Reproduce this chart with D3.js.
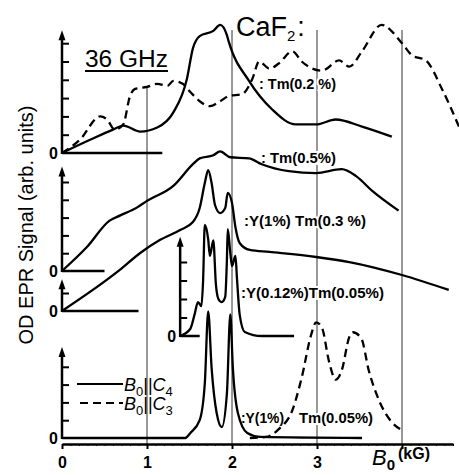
<!DOCTYPE html>
<html>
<head>
<meta charset="utf-8">
<script src="https://cdn.jsdelivr.net/npm/d3@7"></script>
<style>
  body { margin: 0; background: #fff; }
  svg { display: block; font-family: "Liberation Sans", Arial, sans-serif; }
</style>
</head>
<body>
<svg id="chart" width="459" height="475"></svg>
<script>
// field axis (kG)
const fieldTicks = [0, 1, 2, 3, 4];
const fieldLabels = [0, 1, 2, 3];
const gridFields = [1, 2, 3, 4];

// series: [B0 (kG), signal (arb. units)]
// Tm(0.2 %), B0||C4
const tm02C4 = [[0,0],[0.33,0.72],[0.6,1.28],[0.72,1.5],[0.92,1.17],[1.12,1.39],[1.31,2.22],[1.47,4.06],
  [1.54,5.72],[1.62,6.39],[1.78,6.67],[1.86,7.0],[1.94,6.44],[1.96,6.11],[2.2,3.94],[2.47,2.39],
  [2.75,1.56],[2.99,1.56],[3.22,1.83],[3.53,1.44],[3.88,0.89]];
// Tm(0.2 %), B0||C3
const tm02C3 = [[0,0],[0.21,0.72],[0.45,2.0],[0.53,1.83],[0.62,1.28],[0.72,1.56],[0.8,3.11],[0.86,3.5],
  [1.0,3.61],[1.12,3.78],[1.24,3.67],[1.31,3.94],[1.42,3.78],[1.51,3.33],[1.62,2.83],[1.74,2.56],
  [1.86,2.83],[1.96,3.11],[2.12,3.22],[2.24,4.06],[2.32,5.0],[2.44,4.61],[2.55,4.89],[2.71,5.56],
  [2.82,5.0],[3.06,4.5],[3.26,5.06],[3.38,4.72],[3.53,5.56],[3.76,7.0],[4.0,6.0],[4.12,5.33],
  [4.28,5.06],[4.47,3.5],[4.67,1.44]];
// Tm(0.5%)
const tm05C4 = [[0,0],[0.29,1.33],[0.56,2.83],[0.68,3.11],[0.88,3.56],[1.0,3.94],[1.31,4.78],[1.54,6.0],
  [1.62,6.33],[1.78,6.5],[1.86,6.72],[1.98,6.39],[2.2,6.33],[2.35,6.0],[2.67,5.61],[2.99,5.5],
  [3.29,5.72],[3.46,5.33],[3.65,4.5],[3.96,3.39]];
// Y(1%) Tm(0.3 %)
const y1tm03C4 = [[0,0],[0.68,2.28],[0.92,3.22],[1.15,3.94],[1.39,4.5],[1.54,4.94],[1.62,5.72],[1.68,7.11],
  [1.72,7.83],[1.76,7.11],[1.8,5.89],[1.86,5.44],[1.92,5.72],[1.95,6.56],[2.0,6.0],[2.04,4.67],
  [2.09,3.78],[2.21,3.39],[2.44,3.28],[2.99,3.0],[3.38,2.72],[4.0,2.0],[4.55,1.17]];
// Y(0.12%) Tm(0.05%)
const y012tm005C4 = [[1.39,0],[1.51,0.39],[1.56,1.17],[1.6,1.83],[1.64,1.61],[1.66,3.0],[1.68,6.0],[1.72,5.22],
  [1.74,4.33],[1.78,5.17],[1.81,2.83],[1.84,2.0],[1.88,1.83],[1.92,2.11],[1.94,4.11],[1.95,5.78],
  [1.98,4.5],[2.0,3.78],[2.04,4.33],[2.06,3.0],[2.09,1.17],[2.15,0.22],[2.35,0],[2.73,0]];
// Y(1%) (solid) and Tm(0.05%) (dashed)
const y1C4 = [[0,0],[1.45,0],[1.51,0.28],[1.62,1.0],[1.68,3.06],[1.72,7.11],[1.76,3.94],[1.82,1.39],
  [1.88,0.61],[1.94,2.5],[1.98,6.94],[2.01,3.94],[2.07,1.39],[2.18,0.28],[2.33,0.06],[3.53,0]];
const tm005C3 = [[2.21,0],[2.4,0.06],[2.55,0.5],[2.71,1.56],[2.82,3.39],[2.93,5.78],[2.99,6.5],[3.06,6.17],
  [3.14,4.33],[3.22,3.28],[3.29,3.78],[3.38,5.67],[3.42,5.94],[3.52,5.61],[3.61,3.78],[3.73,2.11],
  [3.88,0.89],[4.0,0.44]];

// layout of the stacked panels
const panels = [
  { zero: 153, unit: 18.3, top: 6.55, ticks: 6, axisAt: 0, base: [0, 1.18] },
  { zero: 271, unit: 17.8, top: 5.7, ticks: 5, axisAt: 0, base: [0, 0.5] },
  { zero: 311, unit: 18, top: 1.6, ticks: 1, axisAt: 0, base: [0, 0.9] },
  { zero: 336, unit: 18.5, top: 5.2, ticks: 4, axisAt: 1.39, base: [1.39, 1.62] },
  { zero: 438, unit: 17.8, top: 4.95, ticks: 4, axisAt: 0, base: null }
];

const curves = [
  { panel: 0, data: tm02C4, dashed: false },
  { panel: 0, data: tm02C3, dashed: true },
  { panel: 1, data: tm05C4, dashed: false },
  { panel: 2, data: y1tm03C4, dashed: false },
  { panel: 3, data: y012tm005C4, dashed: false },
  { panel: 4, data: y1C4, dashed: false },
  { panel: 4, data: tm005C3, dashed: true }
];

const labels = [
  { text: ': Tm(0.2 %)', x: 259, y: 89, len: 77 },
  { text: ': Tm(0.5%)', x: 261, y: 163, len: 75 },
  { text: ':Y(1%) Tm(0.3 %)', x: 244, y: 226, len: 122 },
  { text: ':Y(0.12%)Tm(0.05%)', x: 241, y: 298, len: 143 },
  { text: ':Y(1%)', x: 241, y: 423, len: 43 },
  { text: 'Tm(0.05%)', x: 299, y: 423, len: 74 }
];

const svg = d3.select('#chart');
svg.append('rect').attr('width', 459).attr('height', 475).attr('fill', '#fff');

const x = d3.scaleLinear().domain([0, 4.6]).range([62, 453]);
const axisY = 444;

// vertical grid lines
svg.append('g').selectAll('line')
  .data(gridFields)
  .enter()
  .append('line')
  .attr('x1', d => x(d)).attr('x2', d => x(d))
  .attr('y1', d => d === 1 ? 88 : 30)
  .attr('y2', axisY)
  .attr('stroke', '#333')
  .attr('stroke-width', 1);

// panel labels with a white halo so grid lines break behind them
svg.append('g').selectAll('text')
  .data(labels)
  .enter()
  .append('text')
  .attr('x', d => d.x)
  .attr('y', d => d.y)
  .attr('textLength', d => d.len)
  .attr('lengthAdjust', 'spacingAndGlyphs')
  .attr('font-size', 14)
  .attr('font-weight', 'bold')
  .attr('fill', '#000')
  .attr('stroke', '#fff')
  .attr('stroke-width', 4)
  .attr('paint-order', 'stroke')
  .text(d => d.text);

// each panel gets its own y scale and little arrow axis
panels.forEach(p => {
  p.y = d3.scaleLinear().domain([0, 1]).range([p.zero, p.zero - p.unit]);
  const ax = x(p.axisAt);
  const g = svg.append('g').attr('transform', `translate(${ax},0)`);
  g.call(d3.axisRight(p.y)
      .tickValues(d3.range(1, p.ticks + 1))
      .tickSize(7)
      .tickSizeOuter(0)
      .tickFormat(''));
  g.select('.domain').remove();
  g.selectAll('.tick line').attr('stroke', '#000').attr('stroke-width', 2);
  g.append('line')
    .attr('x1', 0).attr('x2', 0)
    .attr('y1', p.zero + 1).attr('y2', p.y(p.top) + 4)
    .attr('stroke', '#000').attr('stroke-width', 2.5);
  const t = p.y(p.top);
  g.append('path')
    .attr('d', `M0,${t - 3} L-3.5,${t + 7} L3.5,${t + 7} Z`)
    .attr('fill', '#000');
  if (p.base) {
    svg.append('line')
      .attr('x1', x(p.base[0])).attr('x2', x(p.base[1]))
      .attr('y1', p.zero).attr('y2', p.zero)
      .attr('stroke', '#000').attr('stroke-width', 2.5);
  }
  svg.append('text')
    .attr('x', ax - 4).attr('y', p.zero + 6)
    .attr('text-anchor', 'end')
    .attr('font-size', 16).attr('font-weight', 'bold')
    .text('0');
});

// bottom field axis
const xAxis = svg.append('g').attr('transform', `translate(0,${axisY})`);
xAxis.call(d3.axisBottom(x).tickValues(d3.range(0, 4.65, 0.1)).tickSize(2).tickSizeOuter(0).tickFormat(''));
xAxis.select('.domain').attr('stroke', '#000').attr('stroke-width', 2.5);
xAxis.selectAll('.tick line').attr('stroke', '#000').attr('stroke-width', 1);
const major = svg.append('g').attr('transform', `translate(0,${axisY})`);
major.call(d3.axisBottom(x).tickValues(fieldTicks).tickSize(5).tickPadding(8)
  .tickFormat(d => fieldLabels.includes(d) ? d3.format('d')(d) : ''));
major.select('.domain').remove();
major.selectAll('.tick line').attr('stroke', '#000').attr('stroke-width', 2);
major.selectAll('.tick text')
  .attr('font-size', 16).attr('font-weight', 'bold')
  .attr('font-family', '"Liberation Sans", Arial, sans-serif')
  .attr('fill', '#000');

// spectra
curves.forEach(c => {
  const p = panels[c.panel];
  const line = d3.line()
    .x(d => x(d[0]))
    .y(d => p.y(d[1]))
    .curve(d3.curveMonotoneX);
  svg.append('path')
    .datum(c.data)
    .attr('d', line)
    .attr('fill', 'none')
    .attr('stroke', '#000')
    .attr('stroke-width', 2.3)
    .attr('stroke-linejoin', 'round')
    .attr('stroke-dasharray', c.dashed ? '8,5' : null);
});

// legend
svg.append('line').attr('x1', 77).attr('x2', 123).attr('y1', 384).attr('y2', 384)
  .attr('stroke', '#000').attr('stroke-width', 2);
svg.append('line').attr('x1', 80).attr('x2', 123).attr('y1', 403).attr('y2', 403)
  .attr('stroke', '#000').attr('stroke-width', 2).attr('stroke-dasharray', '8,5');
[['4', 391], ['3', 410]].forEach(([sub, yy]) => {
  const t = svg.append('text').attr('x', 124).attr('y', yy).attr('font-size', 18);
  t.append('tspan').attr('font-style', 'italic').text('B');
  t.append('tspan').attr('dy', 5).attr('font-size', 13).text('0');
  t.append('tspan').attr('dy', -5).text('||');
  t.append('tspan').attr('font-style', 'italic').text('C');
  t.append('tspan').attr('dy', 5).attr('font-size', 13).text(sub);
});

// titles
svg.append('text').attr('x', 85).attr('y', 67).attr('font-size', 23).attr('textLength', 83)
  .attr('lengthAdjust', 'spacingAndGlyphs').text('36 GHz');
svg.append('line').attr('x1', 85).attr('x2', 168).attr('y1', 71).attr('y2', 71)
  .attr('stroke', '#000').attr('stroke-width', 2);

// CaF2: as a formula with a subscript
const caf = svg.append('text').attr('x', 236).attr('y', 36).attr('font-size', 27);
caf.append('tspan').text('CaF');
caf.append('tspan').attr('dy', 5).attr('font-size', 15).text('2');
caf.append('tspan').attr('dy', -5).attr('dx', 2).text(':');

svg.append('text')
  .attr('transform', 'translate(33,225) rotate(-90)')
  .attr('text-anchor', 'middle')
  .attr('font-size', 20)
  .text('OD EPR Signal (arb. units)');

const bl = svg.append('text').attr('x', 372).attr('y', 465).attr('font-size', 22);
bl.append('tspan').attr('font-style', 'italic').text('B');
bl.append('tspan').attr('dy', 5).attr('font-size', 15).attr('font-weight', 'bold').text('0');
bl.append('tspan').attr('dy', -11).attr('dx', 3).attr('font-size', 16).attr('font-weight', 'bold').text('(kG)');
</script>
</body>
</html>
